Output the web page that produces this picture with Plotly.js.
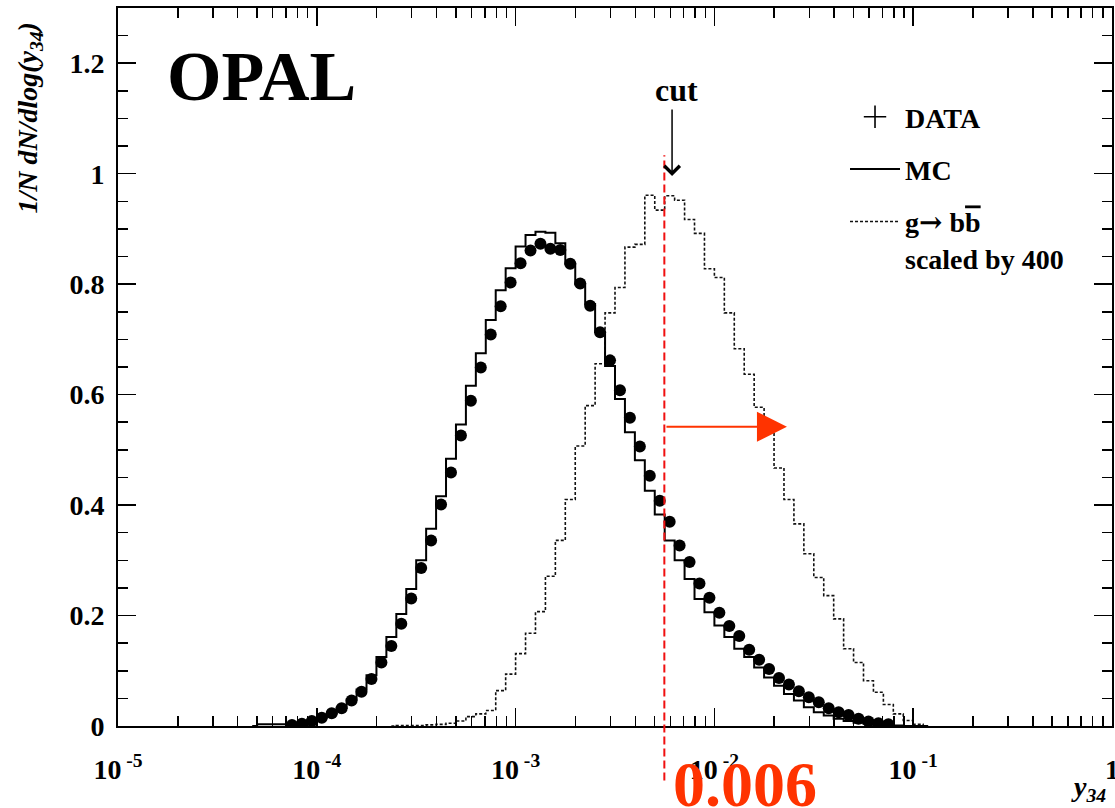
<!DOCTYPE html>
<html>
<head>
<meta charset="utf-8">
<script src="https://cdn.plot.ly/plotly-3.0.1.min.js"></script>
<style>html,body{margin:0;padding:0;background:#fff;}#chart{width:1115px;height:808px;}</style>
</head>
<body>
<div id="chart"></div>
<script>
// log10 of the y34 bin centres (20 bins per decade)
var binCentersLog10 = [-4.325,-4.275,-4.225,-4.175,-4.125,-4.075,-4.025,-3.975,-3.925,-3.875,-3.825,-3.775,-3.725,-3.675,-3.625,-3.575,-3.525,-3.475,-3.425,-3.375,-3.325,-3.275,-3.225,-3.175,-3.125,-3.075,-3.025,-2.975,-2.925,-2.875,-2.825,-2.775,-2.725,-2.675,-2.625,-2.575,-2.525,-2.475,-2.425,-2.375,-2.325,-2.275,-2.225,-2.175,-2.125,-2.075,-2.025,-1.975,-1.925,-1.875,-1.825,-1.775,-1.725,-1.675,-1.625,-1.575,-1.525,-1.475,-1.425,-1.375,-1.325,-1.275,-1.225,-1.175,-1.125,-1.075,-1.025,-0.975,-0.925];

var dataValues = [null,null,null,null,0.002,0.004,0.009,0.015,0.023,0.032,0.046,0.062,0.085,0.115,0.145,0.185,0.231,0.286,0.336,0.401,0.459,0.526,0.589,0.649,0.709,0.760,0.803,0.838,0.861,0.873,0.864,0.862,0.837,0.801,0.761,0.713,0.662,0.608,0.558,0.506,0.453,0.408,0.370,0.327,0.297,0.258,0.232,0.205,0.181,0.163,0.138,0.120,0.103,0.087,0.075,0.063,0.052,0.043,0.032,0.025,0.020,0.013,0.008,0.005,0.003,null,null,null,null];

var mcValues = [0,0.003,0.003,0.003,0.004,0.006,0.010,0.015,0.022,0.033,0.048,0.066,0.092,0.125,0.161,0.203,0.248,0.300,0.357,0.416,0.484,0.546,0.616,0.675,0.735,0.789,0.829,0.868,0.889,0.895,0.893,0.874,0.837,0.800,0.764,0.713,0.652,0.592,0.532,0.481,0.426,0.383,0.336,0.300,0.266,0.230,0.206,0.182,0.161,0.140,0.125,0.106,0.088,0.073,0.058,0.046,0.034,0.025,0.019,0.013,0.009,0.006,0.004,0.002,0.001,0.001,0,0,0];

var gbbValues = [null,null,null,null,null,null,null,null,null,null,null,null,null,null,0,0.001,0.001,0.001,0.002,0.003,0.005,0.009,0.017,0.022,0.028,0.064,0.094,0.131,0.168,0.207,0.271,0.336,0.410,0.507,0.580,0.656,0.748,0.794,0.867,0.872,0.961,0.934,0.960,0.952,0.917,0.892,0.828,0.812,0.748,0.683,0.637,0.577,0.548,0.467,0.410,0.366,0.312,0.269,0.236,0.194,0.140,0.115,0.082,0.061,0.039,0.022,0.010,0.003,0];

var xTickVals = [1e-5, 1e-4, 1e-3, 1e-2, 1e-1, 1];
var xTickText = ["10<sup>\u00a0-5</sup>", "10<sup>\u00a0-4</sup>", "10<sup>\u00a0-3</sup>", "10<sup>\u00a0-2</sup>", "10<sup>\u00a0-1</sup>", "1"];

var legendLabels = ["DATA", "MC", "g<span style=\"font-family:'DejaVu Serif'\">\u2192</span> b<span style=\"text-decoration:overline\">b</span><br>scaled by 400"];
var cutLineY34 = 0.0056;       // where the dashed cut line is drawn
var cutLabel = "0.006";
var cutArrowY = 0.542;          // height of the red "selected" arrow
var cutArrowTipLog10 = -1.635;  // tip of the red arrow
var cutMarkerLog10 = -2.213;    // position of the black "cut" arrow
var cutMarkerTipY = 0.996;

var y34 = binCentersLog10.map(function (v) { return Math.pow(10, v); });
var FONT = "Liberation Serif";

var traces = [
  {
    x: y34, y: gbbValues, type: "scatter", mode: "lines",
    line: {shape: "hvh", color: "#111", width: 1.6, dash: "3px,2px"},
    name: legendLabels[2], legendgroup: "g", legendrank: 3, hoverinfo: "skip"
  },
  {
    x: y34, y: mcValues, type: "scatter", mode: "lines",
    line: {shape: "hvh", color: "#000", width: 2},
    name: legendLabels[1], legendgroup: "m", legendrank: 2, hoverinfo: "skip"
  },
  {
    x: y34, y: dataValues, type: "scatter", mode: "markers",
    marker: {symbol: "circle", size: 12, color: "#000"},
    name: legendLabels[0], showlegend: false, hoverinfo: "skip"
  },
  {
    x: [null], y: [null], type: "scatter", mode: "markers",
    marker: {symbol: "cross-thin-open", size: 30, color: "#000", line: {width: 1.6, color: "#000"}},
    name: legendLabels[0], legendgroup: "d", legendrank: 1
  }
];

var tickFont = {family: FONT, size: 28, color: "#000", weight: "bold"};

var layout = {
  width: 1115, height: 808,
  margin: {l: 118, r: 3, t: 8, b: 82},
  paper_bgcolor: "#fff", plot_bgcolor: "#fff",
  showlegend: true,
  legend: {
    x: 0.7314, y: 0.883, xanchor: "left", yanchor: "top",
    font: {family: FONT, size: 28, color: "#000", weight: "bold"},
    bgcolor: "rgba(0,0,0,0)", tracegroupgap: 13, itemwidth: 50, valign: "top"
  },
  xaxis: {
    type: "log", range: [-5, 0], tickmode: "array", tickvals: xTickVals, ticktext: xTickText,
    ticks: "inside", ticklen: 18, tickwidth: 1.5, tickcolor: "#000",
    minor: {ticks: "inside", ticklen: 10, tickwidth: 1.5, dtick: "D1", tickcolor: "#000", showgrid: false},
    showline: true, linewidth: 2, linecolor: "#000", mirror: "allticks",
    showgrid: false, zeroline: false, tickfont: tickFont, ticklabelstandoff: 17,
    ticklabeloverflow: "allow"
  },
  yaxis: {
    range: [0, 1.3], dtick: 0.2, tick0: 0,
    ticks: "inside", ticklen: 18, tickwidth: 1.5, tickcolor: "#000",
    minor: {ticks: "inside", ticklen: 10, tickwidth: 1.5, dtick: 0.05, tickcolor: "#000", showgrid: false},
    showline: true, linewidth: 2, linecolor: "#000", mirror: "allticks",
    showgrid: false, zeroline: false, tickfont: tickFont, ticklabelstandoff: 6
  },
  shapes: [
    {type: "line", xref: "x", yref: "paper", x0: cutLineY34, x1: cutLineY34, y0: -0.076, y1: 0.795,
     line: {color: "#f01010", width: 2, dash: "8px,4px"}}
  ],
  annotations: [
    {xref: "paper", yref: "paper", x: 0.047, y: 0.904, xanchor: "left", yanchor: "middle",
     text: "OPAL", showarrow: false, font: {family: FONT, size: 70, color: "#000", weight: "bold"}},
    {xref: "x", yref: "y", x: cutMarkerLog10, y: cutMarkerTipY, text: "",
     showarrow: true, ax: 0, ay: -68, arrowhead: 4, arrowsize: 2, arrowwidth: 1.5, arrowcolor: "#000"},
    {xref: "x", yref: "y", x: cutMarkerLog10 + 0.02, y: cutMarkerTipY, text: "cut", showarrow: false,
     yshift: 86, xanchor: "center", yanchor: "middle",
     font: {family: FONT, size: 32, color: "#000", weight: "bold"}},
    {xref: "x", yref: "y", x: cutArrowTipLog10, y: cutArrowY, text: "",
     showarrow: true, ax: -122, ay: 0, arrowhead: 2, arrowsize: 3, arrowwidth: 2, arrowcolor: "#ff3300"},
    {xref: "paper", yref: "paper", x: 0.631, y: -0.081, xanchor: "center", yanchor: "middle",
     text: cutLabel, showarrow: false, font: {family: FONT, size: 64, color: "#ff3300", weight: "bold"}},
    {xref: "paper", yref: "paper", x: 0.996, y: -0.087, xanchor: "right", yanchor: "middle",
     text: "y<sub>34</sub>", showarrow: false,
     font: {family: FONT, size: 28, color: "#000", weight: "bold", style: "italic"}},
    {xref: "paper", yref: "paper", x: -0.0885, y: 0.846, xanchor: "center", yanchor: "middle",
     textangle: -90, text: "1/N dN/dlog(y<sub>34</sub>)", showarrow: false,
     font: {family: FONT, size: 28, color: "#000", weight: "bold", style: "italic"}}
  ]
};

Plotly.newPlot("chart", traces, layout, {staticPlot: true, displayModeBar: false});
</script>
</body>
</html>
